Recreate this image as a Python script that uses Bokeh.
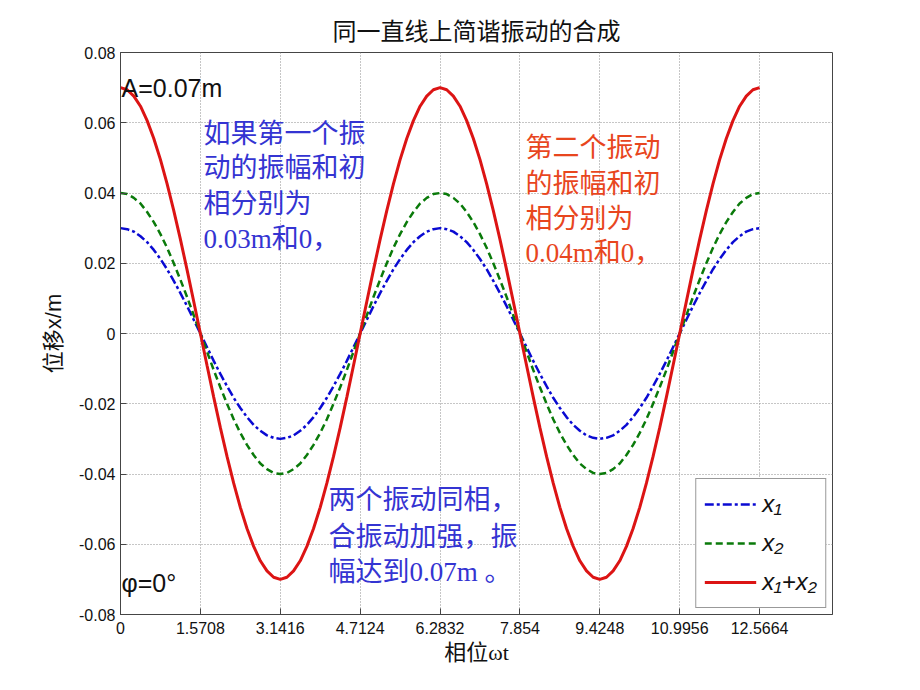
from bokeh.plotting import figure
from bokeh.models import Range1d, FixedTicker, Label
from bokeh.embed import file_html
from bokeh.resources import INLINE

# ---------------- data ----------------
phase = [0, 0.1309, 0.2618, 0.3927, 0.5236, 0.6545, 0.7854, 0.9163, 1.0472, 1.1781, 1.309, 1.4399, 1.5708,
         1.7017, 1.8326, 1.9635, 2.0944, 2.2253, 2.3562, 2.4871, 2.618, 2.7489, 2.8798, 3.0107, 3.1416,
         3.2725, 3.4034, 3.5343, 3.6652, 3.7961, 3.927, 4.0579, 4.1888, 4.3197, 4.4506, 4.5815, 4.7124,
         4.8433, 4.9742, 5.1051, 5.236, 5.3669, 5.4978, 5.6287, 5.7596, 5.8905, 6.0214, 6.1523, 6.2832,
         6.4141, 6.545, 6.6759, 6.8068, 6.9377, 7.0686, 7.1995, 7.3304, 7.4613, 7.5922, 7.7231, 7.854,
         7.9849, 8.1158, 8.2467, 8.3776, 8.5085, 8.6394, 8.7703, 8.9012, 9.0321, 9.163, 9.2939, 9.4248,
         9.5557, 9.6866, 9.8175, 9.9484, 10.0793, 10.2102, 10.3411, 10.472, 10.6029, 10.7338, 10.8647, 10.9956,
         11.1265, 11.2574, 11.3883, 11.5192, 11.6501, 11.781, 11.9119, 12.0428, 12.1737, 12.3046, 12.4355, 12.5664]

x1 = [0.0300, 0.0297, 0.0290, 0.0277, 0.0260, 0.0238, 0.0212, 0.0183, 0.0150, 0.0115, 0.0078, 0.0039, 0.0000,
      -0.0039, -0.0078, -0.0115, -0.0150, -0.0183, -0.0212, -0.0238, -0.0260, -0.0277, -0.0290, -0.0297, -0.0300,
      -0.0297, -0.0290, -0.0277, -0.0260, -0.0238, -0.0212, -0.0183, -0.0150, -0.0115, -0.0078, -0.0039, 0.0000,
      0.0039, 0.0078, 0.0115, 0.0150, 0.0183, 0.0212, 0.0238, 0.0260, 0.0277, 0.0290, 0.0297, 0.0300,
      0.0297, 0.0290, 0.0277, 0.0260, 0.0238, 0.0212, 0.0183, 0.0150, 0.0115, 0.0078, 0.0039, 0.0000,
      -0.0039, -0.0078, -0.0115, -0.0150, -0.0183, -0.0212, -0.0238, -0.0260, -0.0277, -0.0290, -0.0297, -0.0300,
      -0.0297, -0.0290, -0.0277, -0.0260, -0.0238, -0.0212, -0.0183, -0.0150, -0.0115, -0.0078, -0.0039, 0.0000,
      0.0039, 0.0078, 0.0115, 0.0150, 0.0183, 0.0212, 0.0238, 0.0260, 0.0277, 0.0290, 0.0297, 0.0300]

x2 = [0.0400, 0.0397, 0.0386, 0.0370, 0.0346, 0.0317, 0.0283, 0.0244, 0.0200, 0.0153, 0.0104, 0.0052, 0.0000,
      -0.0052, -0.0104, -0.0153, -0.0200, -0.0244, -0.0283, -0.0317, -0.0346, -0.0370, -0.0386, -0.0397, -0.0400,
      -0.0397, -0.0386, -0.0370, -0.0346, -0.0317, -0.0283, -0.0244, -0.0200, -0.0153, -0.0104, -0.0052, 0.0000,
      0.0052, 0.0104, 0.0153, 0.0200, 0.0244, 0.0283, 0.0317, 0.0346, 0.0370, 0.0386, 0.0397, 0.0400,
      0.0397, 0.0386, 0.0370, 0.0346, 0.0317, 0.0283, 0.0244, 0.0200, 0.0153, 0.0104, 0.0052, 0.0000,
      -0.0052, -0.0104, -0.0153, -0.0200, -0.0244, -0.0283, -0.0317, -0.0346, -0.0370, -0.0386, -0.0397, -0.0400,
      -0.0397, -0.0386, -0.0370, -0.0346, -0.0317, -0.0283, -0.0244, -0.0200, -0.0153, -0.0104, -0.0052, 0.0000,
      0.0052, 0.0104, 0.0153, 0.0200, 0.0244, 0.0283, 0.0317, 0.0346, 0.0370, 0.0386, 0.0397, 0.0400]

x_sum = [0.0700, 0.0694, 0.0676, 0.0647, 0.0606, 0.0555, 0.0495, 0.0426, 0.0350, 0.0268, 0.0181, 0.0091, 0.0000,
         -0.0091, -0.0181, -0.0268, -0.0350, -0.0426, -0.0495, -0.0555, -0.0606, -0.0647, -0.0676, -0.0694, -0.0700,
         -0.0694, -0.0676, -0.0647, -0.0606, -0.0555, -0.0495, -0.0426, -0.0350, -0.0268, -0.0181, -0.0091, 0.0000,
         0.0091, 0.0181, 0.0268, 0.0350, 0.0426, 0.0495, 0.0555, 0.0606, 0.0647, 0.0676, 0.0694, 0.0700,
         0.0694, 0.0676, 0.0647, 0.0606, 0.0555, 0.0495, 0.0426, 0.0350, 0.0268, 0.0181, 0.0091, 0.0000,
         -0.0091, -0.0181, -0.0268, -0.0350, -0.0426, -0.0495, -0.0555, -0.0606, -0.0647, -0.0676, -0.0694, -0.0700,
         -0.0694, -0.0676, -0.0647, -0.0606, -0.0555, -0.0495, -0.0426, -0.0350, -0.0268, -0.0181, -0.0091, 0.0000,
         0.0091, 0.0181, 0.0268, 0.0350, 0.0426, 0.0495, 0.0555, 0.0606, 0.0647, 0.0676, 0.0694, 0.0700]

xtick_values = [0, 1.5708, 3.1416, 4.7124, 6.2832, 7.854, 9.4248, 10.9956, 12.5664]
xtick_labels = ["0", "1.5708", "3.1416", "4.7124", "6.2832", "7.854", "9.4248", "10.9956", "12.5664"]
ytick_values = [-0.08, -0.06, -0.04, -0.02, 0, 0.02, 0.04, 0.06, 0.08]
ytick_labels = ["-0.08", "-0.06", "-0.04", "-0.02", "0", "0.02", "0.04", "0.06", "0.08"]

series_names = ["x\u2081", "x\u2082", "x\u2081+x\u2082"]

title_text = "同一直线上简谐振动的合成"
xlabel_text = "相位ωt"
ylabel_text = "位移x/m"

blue_lines = ["如果第一个振", "动的振幅和初", "相分别为", "0.03m和0，"]
red_lines = ["第二个振动", "的振幅和初", "相分别为", "0.04m和0，"]
bottom_lines = ["两个振动同相，", "合振动加强，振", "幅达到0.07m 。"]
amp_text = "A=0.07m"
phi_text = "φ=0°"

# ---------------- figure ----------------
AXC = "#454545"
p = figure(width=912, height=682, output_backend="svg", toolbar_location=None,
           x_range=Range1d(0, 14), y_range=Range1d(-0.08, 0.08),
           min_border_left=120, min_border_right=80, min_border_top=52, min_border_bottom=68,
           background_fill_color="white", border_fill_color="white",
           title=title_text)

p.title.align = "center"
p.title.text_font = "Noto Sans CJK SC"
p.title.text_font_size = "24px"
p.title.text_font_style = "normal"
p.title.text_color = "#111111"
p.title.standoff = 12

p.outline_line_color = AXC
p.outline_line_width = 1

xt = FixedTicker(ticks=xtick_values)
yt = FixedTicker(ticks=ytick_values)

xa = p.xaxis[0]
ya = p.yaxis[0]
xa.ticker = xt
ya.ticker = yt
xa.major_label_overrides = {v: s for v, s in zip(xtick_values, xtick_labels)}
ya.major_label_overrides = {v: s for v, s in zip(ytick_values, ytick_labels)}

for ax in (xa, ya):
    ax.major_tick_in = 6
    ax.major_tick_out = 0
    ax.minor_tick_line_color = None
    ax.axis_line_color = AXC
    ax.major_tick_line_color = AXC
    ax.major_label_text_font = "Liberation Sans"
    ax.major_label_text_font_size = "16px"
    ax.major_label_text_color = "#111111"
    ax.axis_label_text_font_size = "22px"
    ax.axis_label_text_font_style = "normal"
    ax.axis_label_text_color = "#111111"

xa.major_label_standoff = 7
ya.major_label_standoff = 5
xa.axis_label = xlabel_text
xa.axis_label_text_font = "Liberation Serif, Noto Sans CJK SC"
xa.axis_label_standoff = 3
ya.axis_label = ylabel_text
ya.axis_label_text_font = "Liberation Sans, Noto Sans CJK SC"
ya.axis_label_standoff = 10

p.xgrid.ticker = xt
p.ygrid.ticker = yt
for g in (p.xgrid, p.ygrid):
    g.grid_line_color = "#8c8c8c"
    g.grid_line_dash = "1 2"
    g.grid_line_width = 1

# ---------------- curves ----------------
p.line(phase, x1, line_color="#0a0ad2", line_width=2.5, line_dash="9 3 3 3",
       legend_label=series_names[0])
p.line(phase, x2, line_color="#0a7a0a", line_width=2.5, line_dash="7 4",
       legend_label=series_names[1])
p.line(phase, x_sum, line_color="#dc1414", line_width=3,
       legend_label=series_names[2])

lg = p.legend[0]
lg.location = "bottom_right"
lg.margin = 6
lg.border_line_color = "#333333"
lg.border_line_width = 1
lg.background_fill_color = "white"
lg.background_fill_alpha = 1
lg.padding = 8
lg.spacing = 5
lg.glyph_width = 52
lg.glyph_height = 34
lg.label_height = 34
lg.label_standoff = 6
lg.label_text_font = "Liberation Sans"
lg.label_text_font_style = "italic"
lg.label_text_font_size = "24px"
lg.label_text_color = "#111111"

# ---------------- annotations ----------------
CJK_FONT = "Liberation Serif, Noto Sans CJK SC"
BLUE_TXT = "#3434d2"
RED_TXT = "#e8461e"

blue_pos = (1.632, [0.0569, 0.0470, 0.0370, 0.0270])
red_pos = (7.963, [0.0527, 0.0427, 0.0327, 0.0228])
bottom_pos = (4.09, [-0.0473, -0.0578, -0.0680])

for lines, (x0, ys), col in ((blue_lines, blue_pos, BLUE_TXT),
                             (red_lines, red_pos, RED_TXT),
                             (bottom_lines, bottom_pos, BLUE_TXT)):
    for s, yy in zip(lines, ys):
        p.add_layout(Label(x=x0, y=yy, text=s, text_font=CJK_FONT, text_font_size="27px",
                           text_color=col, text_align="left", text_baseline="middle"))

p.add_layout(Label(x=0.02, y=0.0700, text=amp_text, text_font="Liberation Sans",
                   text_font_size="25px", text_color="#111111",
                   text_align="left", text_baseline="middle"))
p.add_layout(Label(x=0.02, y=-0.0709, text=phi_text, text_font="Liberation Sans",
                   text_font_size="25px", text_color="#111111",
                   text_align="left", text_baseline="middle"))

open("out.html", "w").write(file_html(p, INLINE))
